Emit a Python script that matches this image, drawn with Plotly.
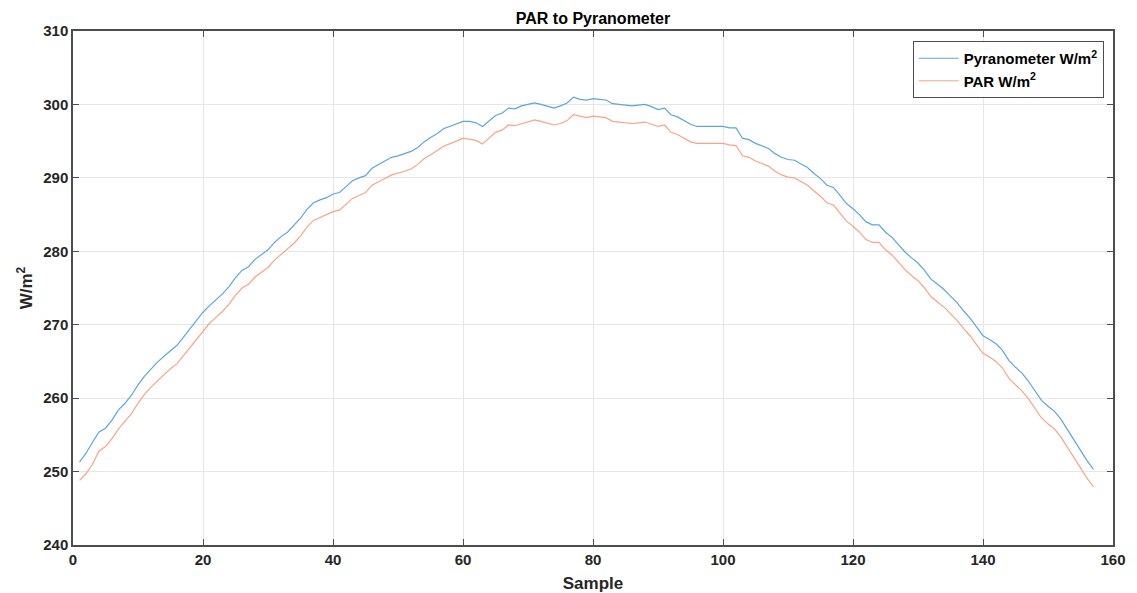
import plotly.graph_objects as go

sample = list(range(1, 158))

pyranometer = [
    251.3, 252.5, 254.0, 255.4, 255.9, 257.0, 258.4, 259.3, 260.4, 261.8,
    263.0, 264.0, 264.9, 265.7, 266.5, 267.2, 268.3, 269.4, 270.6, 271.7,
    272.6, 273.4, 274.2, 275.2, 276.4, 277.4, 277.9, 278.9, 279.5, 280.2,
    281.2, 282.0, 282.6, 283.5, 284.5, 285.7, 286.6, 287.0, 287.3, 287.8,
    288.0, 288.8, 289.6, 290.0, 290.3, 291.3, 291.8, 292.3, 292.8, 293.0,
    293.3, 293.6, 294.1, 294.9, 295.5, 296.0, 296.7, 297.0, 297.3, 297.7,
    297.7, 297.5, 297.0, 297.8, 298.5, 298.8, 299.5, 299.4, 299.8, 300.0,
    300.2, 300.0, 299.8, 299.5, 299.8, 300.2, 301.0, 300.7, 300.6, 300.8,
    300.7, 300.6, 300.1, 300.0, 299.9, 299.8, 299.9, 300.0, 299.7, 299.3,
    299.5, 298.6, 298.3, 297.8, 297.3, 297.0, 297.0, 297.0, 296.9, 297.0,
    296.8, 296.8, 295.4, 295.2, 294.7, 294.3, 294.0, 293.3, 292.8, 292.5,
    292.4, 291.9, 291.4, 290.6, 289.9, 289.0, 288.7, 287.6, 286.5, 285.8,
    285.0, 284.0, 283.6, 283.6, 282.6, 281.9, 280.9, 279.9, 279.1, 278.4,
    277.4, 276.2, 275.5, 274.8, 273.9, 273.0, 271.9, 270.9, 269.7, 268.5,
    268.0, 267.4, 266.5, 265.1, 264.2, 263.4, 262.3, 261.0, 259.7, 258.9,
    258.2, 257.1, 255.7, 254.3, 252.9, 251.5, 250.3,
]

par = [
    248.8, 249.7, 251.0, 252.8, 253.4, 254.5, 255.8, 256.8, 257.9, 259.3,
    260.5, 261.5, 262.4, 263.2, 264.0, 264.7, 265.8, 266.9, 268.1, 269.2,
    270.2, 271.0, 271.8, 272.8, 274.0, 275.0, 275.5, 276.5, 277.1, 277.8,
    278.8, 279.6, 280.3, 281.1, 282.1, 283.3, 284.2, 284.6, 284.9, 285.4,
    285.6, 286.4, 287.2, 287.6, 288.0, 289.0, 289.4, 289.9, 290.4, 290.6,
    290.9, 291.2, 291.8, 292.6, 293.1, 293.7, 294.3, 294.6, 295.0, 295.4,
    295.3, 295.1, 294.6, 295.4, 296.2, 296.5, 297.2, 297.1, 297.4, 297.7,
    297.9, 297.7, 297.4, 297.2, 297.4, 297.8, 298.6, 298.4, 298.2, 298.4,
    298.3, 298.2, 297.7, 297.6, 297.5, 297.4, 297.5, 297.6, 297.3, 297.0,
    297.2, 296.2, 295.9, 295.4, 294.9, 294.7, 294.7, 294.7, 294.6, 294.7,
    294.5, 294.4, 293.0, 292.8, 292.3, 291.9, 291.6, 290.9, 290.4, 290.1,
    290.0, 289.5, 289.0, 288.2, 287.5, 286.6, 286.3, 285.2, 284.1, 283.4,
    282.6, 281.6, 281.2, 281.2, 280.2, 279.5, 278.5, 277.5, 276.7, 276.0,
    275.0, 273.8, 273.1, 272.4, 271.5, 270.6, 269.5, 268.5, 267.3, 266.1,
    265.6, 265.0, 264.1, 262.7, 261.8, 261.0, 259.9, 258.6, 257.3, 256.5,
    255.8, 254.7, 253.3, 251.9, 250.5, 249.1, 247.9,
]

x_ticks = [0, 20, 40, 60, 80, 100, 120, 140, 160]
y_ticks = [240, 250, 260, 270, 280, 290, 300, 310]

font_family = "Liberation Sans, Arial, sans-serif"

fig = go.Figure()
fig.add_trace(go.Scatter(
    x=sample, y=pyranometer, mode="lines",
    name="<b>Pyranometer W/m<sup>2</sup></b>",
    line=dict(color="#5aa6e2", width=1.2),
))
fig.add_trace(go.Scatter(
    x=sample, y=par, mode="lines",
    name="<b>PAR W/m<sup>2</sup></b>",
    line=dict(color="#f9a386", width=1.2),
))

axis_common = dict(
    showgrid=True, gridcolor="#e6e6e6", gridwidth=1,
    showline=True, linecolor="#4d4d4d", linewidth=1.5, mirror="ticks",
    ticks="inside", ticklen=6, tickcolor="#4d4d4d", tickwidth=1.2,
    zeroline=False, automargin=False,
    tickfont=dict(family=font_family, size=15, color="#262626", weight="bold"),
)

fig.update_layout(
    width=1129, height=585,
    margin=dict(l=65, r=24, t=23, b=48),
    paper_bgcolor="white", plot_bgcolor="white",
    title=dict(text="<b>PAR to Pyranometer</b>", x=0.5, xanchor="center",
               xref="paper", y=0.983, yanchor="middle",
               font=dict(family=font_family, size=16, color="black")),
    xaxis=dict(range=[0, 160], tickvals=x_ticks,
               title=dict(text="<b>Sample</b>", standoff=13,
                          font=dict(family=font_family, size=17, color="#262626")),
               **axis_common),
    yaxis=dict(range=[240, 310], tickvals=y_ticks,
               title=dict(text="<b>W/m<sup>2</sup></b>", standoff=6,
                          font=dict(family=font_family, size=17, color="#262626")),
               **axis_common),
    legend=dict(x=0.991, y=0.9805, xanchor="right", yanchor="top",
                bgcolor="white", bordercolor="#4d4d4d", borderwidth=1,
                font=dict(family=font_family, size=15, color="black"),
                tracegroupgap=0, itemwidth=40),
    showlegend=True,
)

fig.write_html("out.html")
